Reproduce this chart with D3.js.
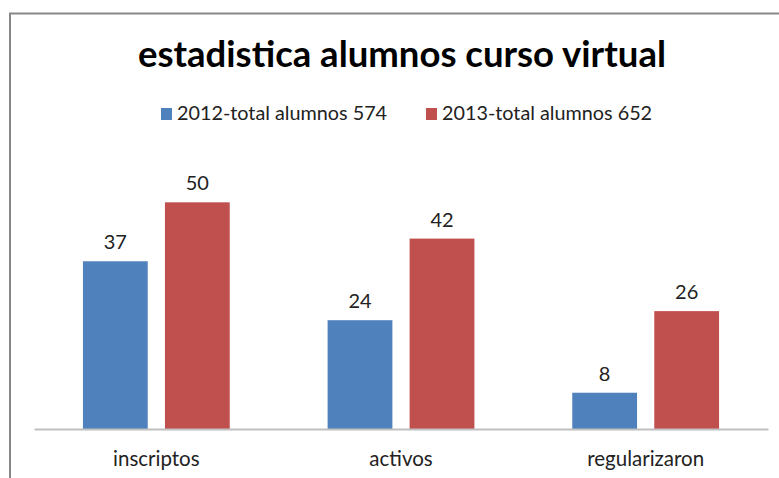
<!DOCTYPE html>
<html>
<head>
<meta charset="utf-8">
<script src="https://cdn.jsdelivr.net/npm/d3@7"></script>
<style>
  body { margin: 0; background: #fff; }
  text { font-family: Lato, "Open Sans", sans-serif; }
</style>
</head>
<body>
<div class="chart"></div>
<script>
// datos
const categorias = ["inscriptos", "activos", "regularizaron"];
const series = ["2012-total alumnos 574", "2013-total alumnos 652"];
const valores2012 = [37, 24, 8];
const valores2013 = [50, 42, 26];
const colores = ["#4F81BD", "#C0504D"];

const data = categorias.map((c, i) => ({
    cat: c,
    vals: [valores2012[i], valores2013[i]]
}));

const svg_width = 779;
const svg_height = 478;
const margin = { top: 157, right: 10, bottom: 49, left: 34 };

const svg = d3.select(".chart").append("svg")
    .attr("width", svg_width)
    .attr("height", svg_height);

// marco
svg.append("path")
    .attr("d", `M10,${svg_height} V13.5 H${svg_width}`)
    .attr("fill", "none")
    .attr("stroke", "#878787")
    .attr("stroke-width", 2);

// scales
const x0 = d3.scaleBand()
    .domain(categorias)
    .range([margin.left, svg_width - margin.right - 1])
    .paddingInner(0.4)
    .paddingOuter(0.2);

const x1 = d3.scaleBand()
    .domain(d3.range(series.length))
    .range([0, x0.bandwidth()])
    .paddingInner(0.21);

const y = d3.scaleLinear()
    .domain([0, 60])
    .range([svg_height - margin.bottom, margin.top]);

// title
svg.append("text")
    .attr("x", 402)
    .attr("y", 67)
    .attr("text-anchor", "middle")
    .style("font-size", "36.5px")
    .style("font-weight", "bold")
    .text("estadistica alumnos curso virtual");

// legend
const legendX = [161, 426];
const legend = svg.append("g").selectAll("g")
    .data(series)
    .join("g")
    .attr("transform", (d, i) => `translate(${legendX[i]},108)`);
legend.append("rect")
    .attr("width", 11).attr("height", 12)
    .attr("fill", (d, i) => colores[i]);
legend.append("text")
    .attr("x", 16).attr("y", 12)
    .style("font-size", "19.8px")
    .attr("fill", "#222")
    .text(d => d);

// bars
const groups = svg.append("g").selectAll("g")
    .data(data)
    .join("g")
    .attr("transform", d => `translate(${x0(d.cat)},0)`);

groups.selectAll("rect")
    .data(d => d.vals.map((v, i) => ({ i, v })))
    .join("rect")
    .attr("x", d => x1(d.i))
    .attr("y", d => y(d.v))
    .attr("width", x1.bandwidth())
    .attr("height", d => y(0) - y(d.v))
    .attr("fill", d => colores[d.i]);

groups.selectAll(".lbl")
    .data(d => d.vals.map((v, i) => ({ i, v })))
    .join("text")
    .attr("class", "lbl")
    .attr("x", d => x1(d.i) + x1.bandwidth() / 2)
    .attr("y", d => y(d.v) - 12)
    .attr("text-anchor", "middle")
    .style("font-size", "20px")
    .attr("fill", "#222")
    .text(d => d.v);

// x axis
const xAxis = d3.axisBottom(x0).tickSize(0).tickPadding(22);
const xAxisDraw = svg.append("g")
    .attr("transform", `translate(0,${y(0)})`)
    .call(xAxis);
xAxisDraw.select(".domain").attr("stroke", "#BFBFBF").attr("stroke-width", 2);
xAxisDraw.selectAll("text")
    .style("font-size", "20.5px")
    .style("font-family", "Lato, sans-serif")
    .attr("fill", "#222");
</script>
</body>
</html>
